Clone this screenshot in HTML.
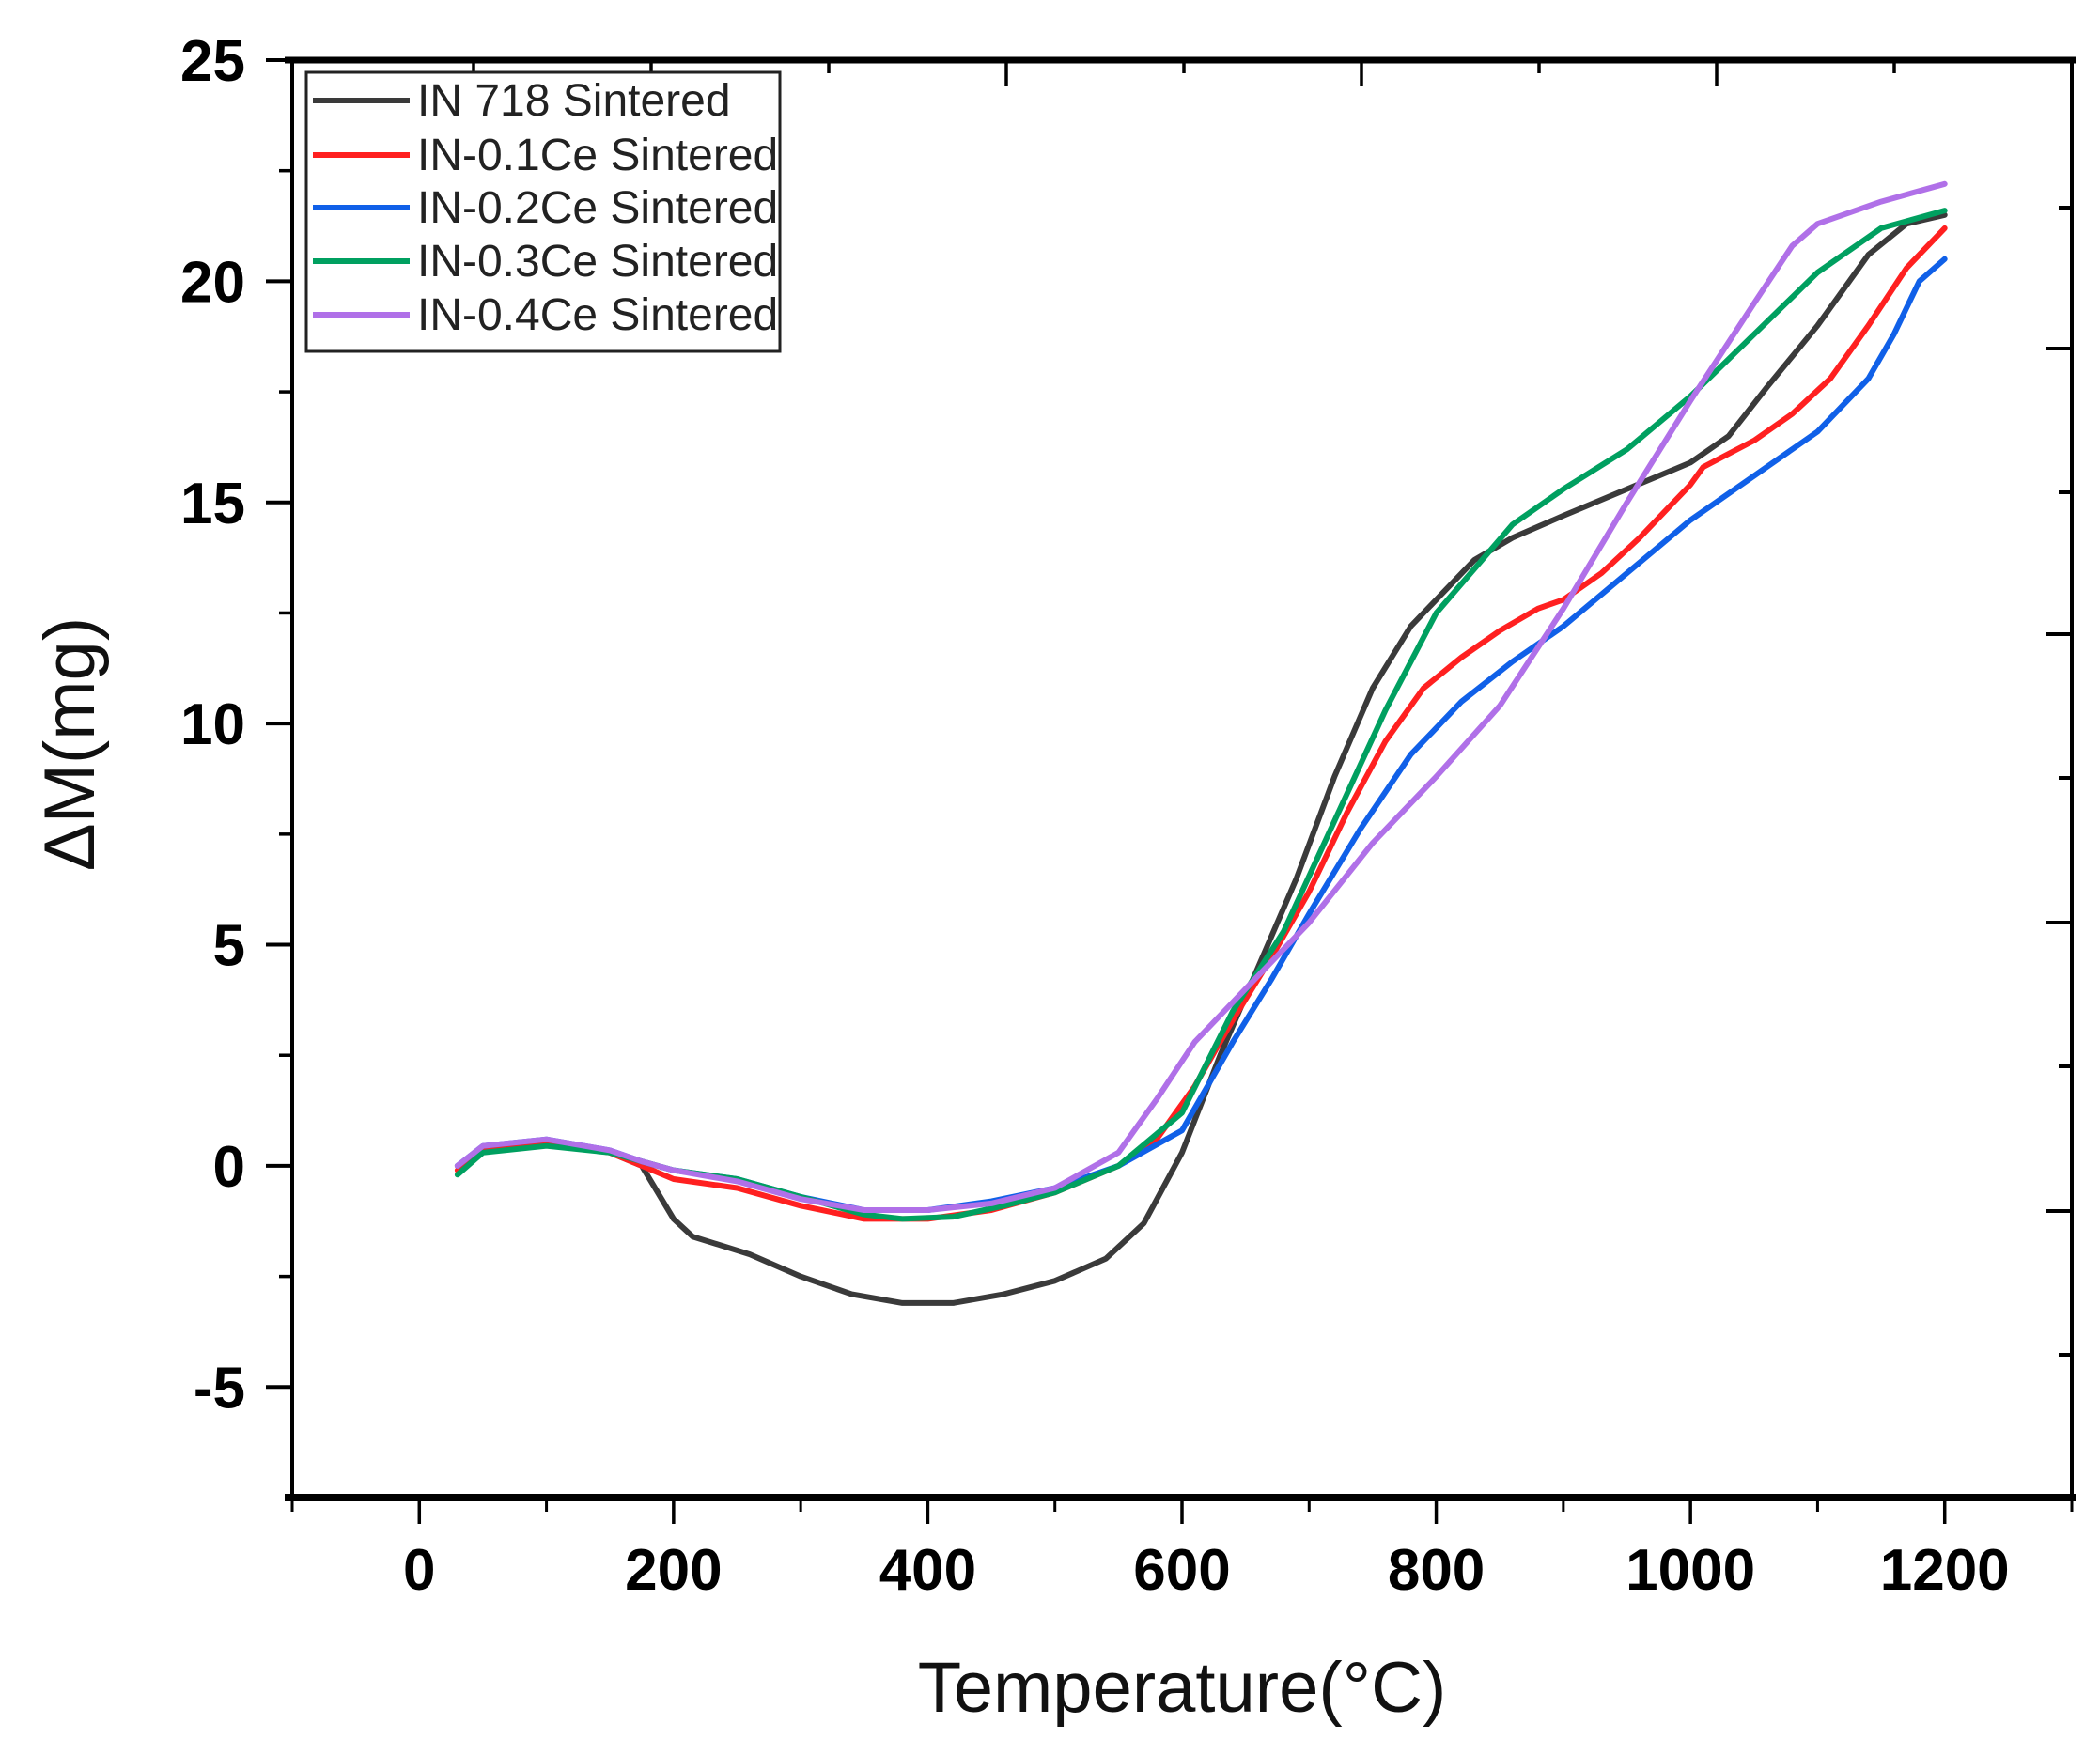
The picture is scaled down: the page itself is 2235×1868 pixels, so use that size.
<!DOCTYPE html>
<html><head><meta charset="utf-8"><style>
html,body{margin:0;padding:0;background:#fff;}
svg{display:block;font-family:"Liberation Sans Narrow","Liberation Sans",Arial,sans-serif;}
</style></head><body>
<svg id="chart" width="2235" height="1868" viewBox="0 0 2235 1868" xmlns="http://www.w3.org/2000/svg">
<g id="series"></g>
<g id="axes"></g>
<text transform="translate(100,792) rotate(-90)" text-anchor="middle" font-size="76" fill="#111" font-family="Liberation Sans, sans-serif">ΔM(mg)</text>
<text x="1258" y="1822" text-anchor="middle" font-size="76" fill="#111" font-family="Liberation Sans, sans-serif">Temperature(°C)</text>
<g id="legend"></g>
</svg>
<script>
const xTicks=[0,200,400,600,800,1000,1200];
const yTicks=[-5,0,5,10,15,20,25];
const seriesNames=["IN 718 Sintered","IN-0.1Ce Sintered","IN-0.2Ce Sintered","IN-0.3Ce Sintered","IN-0.4Ce Sintered"];
const seriesColors=["#3a3a3a","#ff2020","#1060e8","#00a060","#b070e8"];
const tempBlack=[30,50,100,150,175,200,215,260,300,340,380,420,460,500,540,570,600,630,660,690,720,750,780,800,830,860,900,950,1000,1030,1060,1100,1140,1170,1200];
const valBlack=[0,0.4,0.55,0.3,0,-1.2,-1.6,-2.0,-2.5,-2.9,-3.1,-3.1,-2.9,-2.6,-2.1,-1.3,0.3,2.5,4.5,6.5,8.8,10.8,12.2,12.8,13.7,14.2,14.7,15.3,15.9,16.5,17.6,19.0,20.6,21.3,21.5];
const tempRed=[30,50,100,150,175,200,250,300,350,400,450,500,550,580,610,640,670,700,730,760,790,820,850,880,900,930,960,1000,1010,1050,1080,1110,1140,1170,1200];
const valRed=[-0.1,0.4,0.5,0.3,0,-0.3,-0.5,-0.9,-1.2,-1.2,-1.0,-0.6,0,0.6,1.8,3.3,4.7,6.2,8.0,9.6,10.8,11.5,12.1,12.6,12.8,13.4,14.2,15.4,15.8,16.4,17.0,17.8,19.0,20.3,21.2];
const tempBlue=[30,50,100,150,175,200,250,300,350,400,450,500,550,600,640,670,700,740,780,820,860,900,950,1000,1050,1100,1140,1160,1180,1200];
const valBlue=[0,0.45,0.6,0.35,0.1,-0.1,-0.3,-0.7,-1.0,-1.0,-0.8,-0.5,0,0.8,2.8,4.2,5.7,7.6,9.3,10.5,11.4,12.2,13.4,14.6,15.6,16.6,17.8,18.8,20.0,20.5];
const tempGreen=[30,50,100,150,175,200,250,300,350,380,420,460,500,550,600,640,680,720,760,800,830,860,900,950,1000,1050,1100,1150,1200];
const valGreen=[-0.2,0.3,0.45,0.3,0.1,-0.1,-0.3,-0.7,-1.1,-1.2,-1.15,-0.9,-0.6,0,1.2,3.5,5.3,7.8,10.3,12.5,13.5,14.5,15.3,16.2,17.4,18.8,20.2,21.2,21.6];
const tempPurple=[30,50,100,150,175,200,250,300,350,400,450,500,550,580,610,650,700,750,800,850,900,950,1000,1050,1080,1100,1150,1200];
const valPurple=[0,0.45,0.6,0.35,0.1,-0.1,-0.35,-0.75,-1.0,-1.0,-0.85,-0.5,0.3,1.5,2.8,4.0,5.5,7.3,8.8,10.4,12.6,15.0,17.3,19.5,20.8,21.3,21.8,22.2];
const allTemps=[tempBlack,tempRed,tempBlue,tempGreen,tempPurple];
const allVals=[valBlack,valRed,valBlue,valGreen,valPurple];

const L=311,R=2205,T=64,B=1594,XMIN=-100,XMAX=1300,YMIN=-7.5,YMAX=25;
const sx=v=>L+(v-XMIN)/(XMAX-XMIN)*(R-L);
const sy=v=>B-(v-YMIN)/(YMAX-YMIN)*(B-T);
const NS="http://www.w3.org/2000/svg";
function mk(tag,attrs,parent){const e=document.createElementNS(NS,tag);for(const k in attrs)e.setAttribute(k,attrs[k]);parent.appendChild(e);return e;}
const sg=document.getElementById('series');
allTemps.forEach((ts,i)=>{
  const pts=ts.map((t,j)=>sx(t).toFixed(1)+","+sy(allVals[i][j]).toFixed(1)).join(" ");
  const p=mk('polyline',{points:pts,fill:"none",stroke:seriesColors[i],"stroke-width":6,"stroke-linejoin":"round","stroke-linecap":"round"},sg);
  
  
});
const ax=document.getElementById('axes');
const frame=mk('rect',{x:L,y:T,width:R-L,height:B-T,fill:"none",stroke:"#000","stroke-width":4},ax);


mk('line',{x1:L-8,y1:B,x2:R+4,y2:B,stroke:"#000","stroke-width":8},ax);
mk('line',{x1:L-8,y1:T,x2:R+4,y2:T,stroke:"#000","stroke-width":7},ax);
xTicks.forEach(v=>{
  const x=sx(v);
  mk('line',{x1:x,y1:B,x2:x,y2:B+28,stroke:"#000","stroke-width":3.5},ax);
  const t=mk('text',{x:x,y:B+98,"text-anchor":"middle","font-size":62,"font-weight":"bold",fill:"#000"},ax);
  t.textContent=v;
  
  
});
for(let v=-100;v<=1300;v+=200){mk('line',{x1:sx(v),y1:B,x2:sx(v),y2:B+15,stroke:"#000","stroke-width":3},ax);}
yTicks.forEach(v=>{
  const y=sy(v);
  mk('line',{x1:L-28,y1:y,x2:L,y2:y,stroke:"#000","stroke-width":4},ax);
  const t=mk('text',{x:L-50,y:y+22,"text-anchor":"end","font-size":62,"font-weight":"bold",fill:"#000"},ax);
  t.textContent=v;
  
  
});
for(let v=-2.5;v<=22.5;v+=5){mk('line',{x1:L-14,y1:sy(v),x2:L,y2:sy(v),stroke:"#000","stroke-width":3.5},ax);}
[221,371,524,675,828,982,1135,1289,1442].forEach((y,k)=>{mk('line',{x1:R-(k%2?28:14),y1:y,x2:R,y2:y,stroke:"#000","stroke-width":4},ax);});
for(let k=0;k<10;k++){const x=504+k*189;if(x<R-5)mk('line',{x1:x,y1:T,x2:x,y2:T+(k%2?28:14),stroke:"#000","stroke-width":3.5},ax);}
const lg=document.getElementById('legend');
mk('rect',{x:326,y:77,width:504,height:297,fill:"#fff",stroke:"#222","stroke-width":3},lg);
const ly=[107,165,221,278,335];
seriesNames.forEach((n,i)=>{
  mk('line',{x1:333,y1:ly[i],x2:436,y2:ly[i],stroke:seriesColors[i],"stroke-width":6},lg);
  const t=mk('text',{x:444,y:ly[i]+16,"font-size":48,fill:"#222"},lg);
  t.textContent=n;
  
  
});
</script>
</body></html>
